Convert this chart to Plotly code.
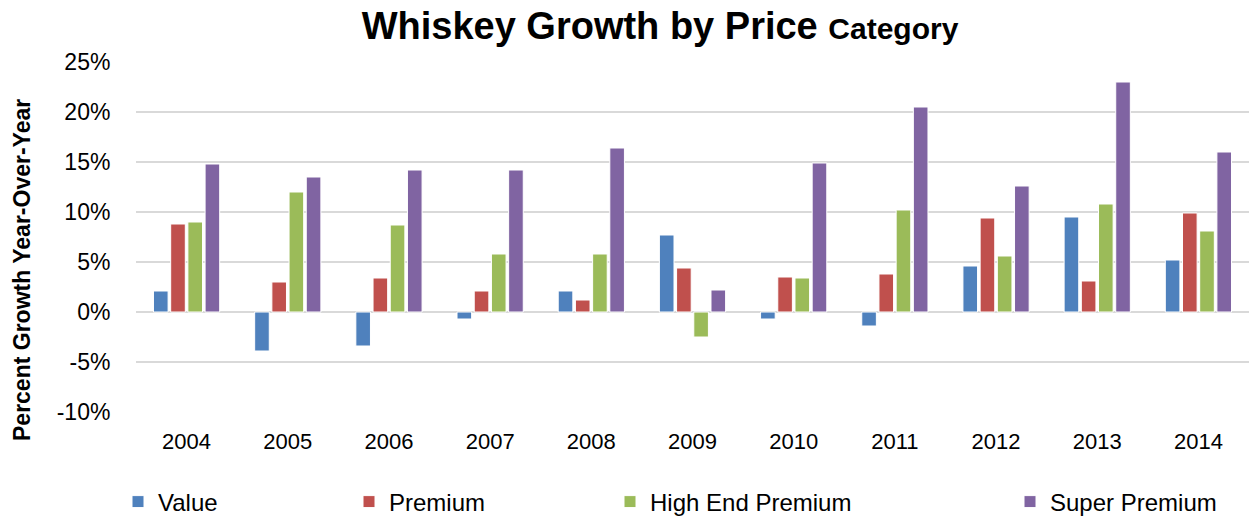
import plotly.graph_objects as go

years = ["2004", "2005", "2006", "2007", "2008", "2009", "2010", "2011", "2012", "2013", "2014"]
value = [2.1, -3.9, -3.4, -0.7, 2.1, 7.7, -0.7, -1.4, 4.6, 9.5, 5.2]
premium = [8.8, 3.0, 3.4, 2.1, 1.2, 4.4, 3.5, 3.8, 9.4, 3.1, 9.9]
high_end_premium = [9.0, 12.0, 8.7, 5.8, 5.8, -2.5, 3.4, 10.2, 5.6, 10.8, 8.1]
super_premium = [14.8, 13.5, 14.2, 14.2, 16.4, 2.2, 14.9, 20.5, 12.6, 23.0, 16.0]

series_names = ["Value", "Premium", "High End Premium", "Super Premium"]
colors = ["#4F81BD", "#C0504D", "#9BBB59", "#8064A2"]
tick_vals = [-10, -5, 0, 5, 10, 15, 20, 25]
tick_text = ["-10%", "-5%", "0%", "5%", "10%", "15%", "20%", "25%"]

W, H = 1249, 517
L, T, B = 136, 62, 105
fig = go.Figure()
legend_names = ["legend", "legend2", "legend3", "legend4"]
for name, vals, col, lg in zip(series_names, [value, premium, high_end_premium, super_premium], colors, legend_names):
    fig.add_trace(go.Bar(
        x=years, y=vals, name=name, legend=lg, showlegend=True,
        marker=dict(color=col, line=dict(color="white", width=1)),
    ))

font = "Liberation Sans, Arial, sans-serif"
legend_x_px = [118, 349, 610, 1010]
legends = {}
for lg, xp in zip(legend_names, legend_x_px):
    legends[lg] = dict(
        x=xp / W, xref="container", y=1 - 502 / H, yref="container",
        yanchor="middle", xanchor="left", orientation="h",
        font=dict(family=font, size=24, color="#000"),
        bgcolor="rgba(0,0,0,0)", itemwidth=30,
    )

fig.update_layout(
    width=W, height=H, showlegend=True,
    margin=dict(l=L, r=0, t=T, b=B),
    plot_bgcolor="white", paper_bgcolor="white",
    barmode="group", bargap=0.32, bargroupgap=0.15,
    title=dict(
        text="<b>Whiskey Growth by Price <span style='font-size:30px'>Category</span></b>",
        x=660 / W, xref="container", xanchor="center",
        y=1 - 26 / H, yref="container", yanchor="middle",
        font=dict(family=font, size=38, color="#000"),
    ),
    xaxis=dict(
        showgrid=False, zeroline=False, showline=False,
        ticks="outside", ticklen=10, tickcolor="rgba(0,0,0,0)",
        tickfont=dict(family=font, size=22, color="#000"),
    ),
    yaxis=dict(
        range=[-10, 25], tickvals=tick_vals, ticktext=tick_text,
        showgrid=True, gridcolor="#d9d9d9", gridwidth=2,
        zeroline=False, showline=False,
        ticks="outside", ticklen=20, tickcolor="rgba(0,0,0,0)",
        tickfont=dict(family=font, size=23, color="#000"),
    ),
    annotations=[dict(
        text="<b>Percent Growth Year-Over-Year</b>",
        x=(22 - L) / (W - L), xref="paper", y=(412 - 270) / 350, yref="paper",
        xanchor="center", yanchor="middle",
        textangle=-90, showarrow=False,
        font=dict(family=font, size=23, color="#000"),
    )],
    **legends,
)
fig.write_html("out.html")
